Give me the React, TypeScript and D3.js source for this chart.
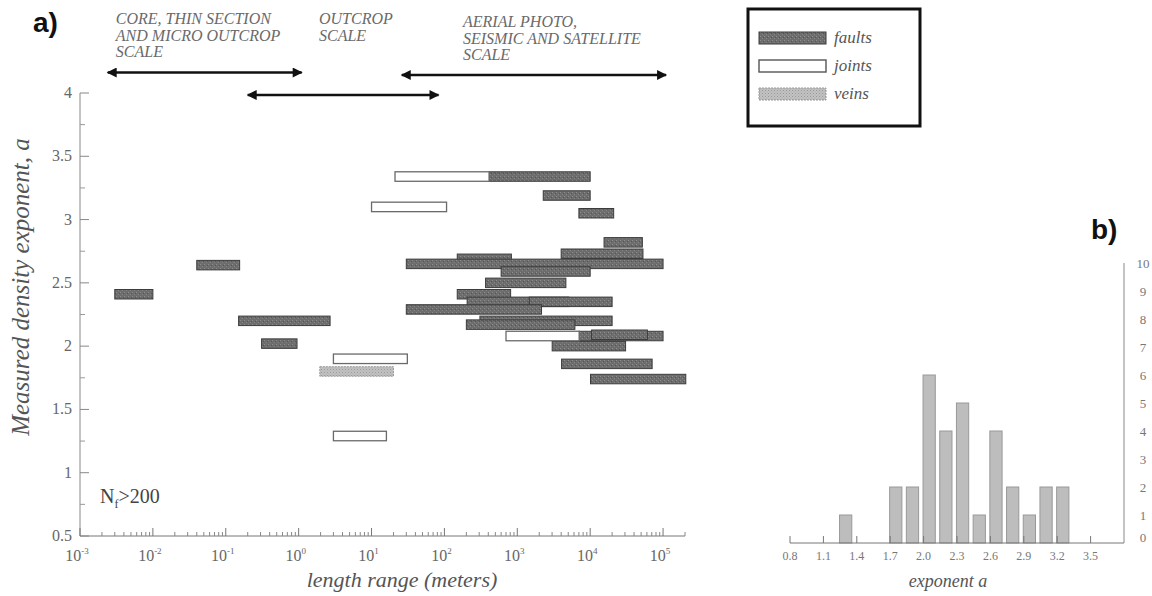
import React from "react";
import * as d3 from "d3";

// [min length (m), max length (m), exponent a]
const faults: [number, number, number][] = [
  [0.003, 0.01, 2.41],
  [0.04, 0.155, 2.64],
  [0.15, 2.7, 2.2],
  [0.31, 0.95, 2.02],
  [410, 10000, 3.34],
  [2270, 10000, 3.19],
  [7000, 21000, 3.05],
  [15500, 52000, 2.82],
  [4000, 53000, 2.73],
  [150, 830, 2.69],
  [30, 100000, 2.65],
  [600, 10000, 2.59],
  [367, 4640, 2.5],
  [150, 810, 2.41],
  [205, 5100, 2.35],
  [1460, 20000, 2.35],
  [30, 2150, 2.29],
  [307, 20000, 2.2],
  [200, 6170, 2.17],
  [7060, 100000, 2.08],
  [10450, 61000, 2.09],
  [3010, 30600, 2.0],
  [4050, 70800, 1.86],
  [10100, 205000, 1.74],
];

const joints: [number, number, number][] = [
  [21, 410, 3.34],
  [10, 107, 3.1],
  [3.0, 31, 1.9],
  [3.0, 16, 1.29],
  [700, 7060, 2.08],
];

const veins: [number, number, number][] = [[1.95, 20, 1.8]];

// scale-of-observation arrows: [from, to] in metres
const scaleArrows: [number, number][] = [
  [0.0024, 1.1],
  [0.2, 83],
  [26, 110000],
];
const scaleLabels: { x: number; lines: string[] }[] = [
  { x: 0.0031, lines: ["CORE, THIN SECTION", "AND MICRO OUTCROP", "SCALE"] },
  { x: 1.9, lines: ["OUTCROP", "SCALE"] },
  { x: 180, lines: ["AERIAL PHOTO,", "SEISMIC AND SATELLITE", "SCALE"] },
];

// histogram (panel b)
const histBins = [1.3, 1.75, 1.9, 2.05, 2.2, 2.35, 2.5, 2.65, 2.8, 2.95, 3.1, 3.25];
const histCounts = [1, 2, 2, 6, 4, 5, 1, 4, 2, 1, 2, 2];
const histTicks = ["0.8", "1.1", "1.4", "1.7", "2.0", "2.3", "2.6", "2.9", "3.2", "3.5"];
const countTicks = [0, 1, 2, 3, 4, 5, 6, 7, 8, 9, 10];

const yTicks = [0.5, 1, 1.5, 2, 2.5, 3, 3.5, 4];
const decades = [-3, -2, -1, 0, 1, 2, 3, 4, 5];

const serif = "'Liberation Serif', 'DejaVu Serif', serif";
const sans = "'Liberation Sans', Arial, sans-serif";

export default function App() {
  const x = d3.scaleLog().domain([1e-3, 2e5]).range([80, 685]);
  const y = d3.scaleLinear().domain([0.5, 4]).range([536, 93]);
  const barH = 0.075;
  const arrowY = [72.5, 95, 75];

  const hx = d3.scaleLinear().domain([0.8, 3.8]).range([790, 1124]);
  const hy = d3.scaleLinear().domain([0, 10]).range([543, 263]);
  const binW = 0.11;

  const minor: number[] = [];
  decades.forEach((k) => {
    for (let m = 2; m <= 9; m++) {
      const v = m * Math.pow(10, k);
      if (v <= 2e5) minor.push(v);
    }
  });

  const rangeBar = (d: [number, number, number], i: number, kind: string) => {
    const x0 = x(d[0]);
    const x1 = x(d[1]);
    const y0 = y(d[2] + barH / 2);
    const h = y(d[2] - barH / 2) - y0;
    if (kind === "fault")
      return <rect key={kind + i} x={x0} y={y0} width={x1 - x0} height={h} fill="url(#stipple)" stroke="#3c3c3c" strokeWidth={1} />;
    if (kind === "joint")
      return <rect key={kind + i} x={x0} y={y0} width={x1 - x0} height={h} fill="#fff" stroke="#6a6a6a" strokeWidth={1.3} />;
    return <rect key={kind + i} x={x0} y={y0} width={x1 - x0} height={h} fill="url(#dots)" stroke="#9a9a9a" strokeWidth={1} strokeDasharray="2 1" />;
  };

  return (
    <svg width={1152} height={596} style={{ position: "absolute", left: 0, top: 0, background: "#fff" }}>
      <defs>
        <pattern id="stipple" width={4} height={4} patternUnits="userSpaceOnUse">
          <rect width={4} height={4} fill="#6d6d6d" />
          <rect x={0} y={0} width={1} height={1} fill="#8c8c8c" />
          <rect x={2} y={2} width={1} height={1} fill="#858585" />
          <rect x={3} y={1} width={1} height={1} fill="#555" />
        </pattern>
        <pattern id="dots" width={3} height={3} patternUnits="userSpaceOnUse">
          <rect width={3} height={3} fill="#c2c2c2" />
          <rect x={0} y={0} width={1} height={1} fill="#999" />
          <rect x={1.5} y={1.5} width={1} height={1} fill="#a8a8a8" />
        </pattern>
        <marker id="head" viewBox="0 0 10 10" refX={9} refY={5} markerWidth={6} markerHeight={4} orient="auto-start-reverse" markerUnits="strokeWidth">
          <path d="M0,0 L10,5 L0,10 z" fill="#111" />
        </marker>
      </defs>

      {/* panel labels */}
      <text x={33} y={32} fontFamily={sans} fontWeight="bold" fontSize={28} fill="#111">a)</text>
      <text x={1091} y={239} fontFamily={sans} fontWeight="bold" fontSize={28} fill="#111">b)</text>

      {/* scale annotations */}
      {scaleLabels.map((s, i) => (
        <text key={"sl" + i} x={x(s.x)} y={i === 2 ? 27 : 24} fontFamily={serif} fontStyle="italic" fontSize={16} fill="#6a6a6a">
          {s.lines.map((l, j) => (
            <tspan key={j} x={x(s.x)} dy={j === 0 ? 0 : 16.5}>{l}</tspan>
          ))}
        </text>
      ))}
      {scaleArrows.map((a, i) => (
        <line key={"ar" + i} x1={x(a[0])} x2={x(a[1])} y1={arrowY[i]} y2={arrowY[i]}
          stroke="#111" strokeWidth={2.5} markerStart="url(#head)" markerEnd="url(#head)" />
      ))}

      {/* legend */}
      <rect x={748} y={9} width={172} height={117} fill="#fff" stroke="#111" strokeWidth={3} />
      {[
        ["faults", "fault"],
        ["joints", "joint"],
        ["veins", "vein"],
      ].map(([label, kind], i) => {
        const cy = 38 + i * 28;
        return (
          <g key={label}>
            <rect x={759} y={cy - 6} width={67} height={12}
              fill={kind === "fault" ? "url(#stipple)" : kind === "joint" ? "#fff" : "url(#dots)"}
              stroke={kind === "fault" ? "#3c3c3c" : kind === "joint" ? "#555" : "#9a9a9a"}
              strokeWidth={kind === "joint" ? 1.4 : 1} strokeDasharray={kind === "vein" ? "2 1" : undefined} />
            <text x={834} y={cy + 5} fontFamily={serif} fontStyle="italic" fontSize={17} fill="#555">{label}</text>
          </g>
        );
      })}

      {/* panel a axes */}
      <line x1={80} x2={80} y1={y(0.5)} y2={y(4)} stroke="#888" strokeWidth={1} />
      <line x1={80} x2={x(2e5)} y1={y(0.5)} y2={y(0.5)} stroke="#777" strokeWidth={1} />
      {yTicks.map((t) => (
        <g key={"yt" + t}>
          <line x1={80} x2={89} y1={y(t)} y2={y(t)} stroke="#888" />
          <text x={72} y={y(t) + 5} textAnchor="end" fontFamily={serif} fontSize={16} fill="#666">{t}</text>
        </g>
      ))}
      {yTicks.slice(0, -1).map((t) => (
        <line key={"ym" + t} x1={80} x2={85} y1={y(t + 0.25)} y2={y(t + 0.25)} stroke="#999" />
      ))}
      {decades.map((k) => (
        <g key={"xd" + k}>
          <line x1={x(Math.pow(10, k))} x2={x(Math.pow(10, k))} y1={y(0.5)} y2={y(0.5) - 8} stroke="#777" />
          <text x={x(Math.pow(10, k)) - 3} y={561} textAnchor="middle" fontFamily={serif} fontSize={16} fill="#666">
            10<tspan fontSize={9} dy={-7}>{k}</tspan>
          </text>
        </g>
      ))}
      {minor.map((v, i) => (
        <line key={"xm" + i} x1={x(v)} x2={x(v)} y1={y(0.5)} y2={y(0.5) - 4} stroke="#888" />
      ))}
      <text x={402} y={587} textAnchor="middle" fontFamily={serif} fontStyle="italic" fontSize={22} fill="#555">length range (meters)</text>
      <text transform={`translate(29,287) rotate(-90)`} textAnchor="middle" fontFamily={serif} fontStyle="italic" fontSize={25} fill="#555">
        Measured density exponent, a
      </text>
      <text x={100} y={503} fontFamily={serif} fontSize={20} fill="#444">
        N<tspan fontSize={12} dy={5}>f</tspan><tspan dy={-5}>&gt;200</tspan>
      </text>

      {/* range bars */}
      {faults.map((d, i) => rangeBar(d, i, "fault"))}
      {joints.map((d, i) => rangeBar(d, i, "joint"))}
      {veins.map((d, i) => rangeBar(d, i, "vein"))}

      {/* panel b histogram */}
      {histBins.map((b, i) => (
        <rect key={"hb" + i} x={hx(b - binW / 2)} y={hy(histCounts[i])} width={hx(b + binW / 2) - hx(b - binW / 2)} height={hy(0) - hy(histCounts[i])}
          fill="#bdbdbd" stroke="#999" strokeWidth={1} />
      ))}
      <line x1={hx(0.8)} x2={hx(3.8)} y1={hy(0)} y2={hy(0)} stroke="#777" />
      <line x1={hx(3.8)} x2={hx(3.8)} y1={hy(0)} y2={hy(10)} stroke="#888" />
      {histTicks.map((t) => (
        <g key={"ht" + t}>
          <line x1={hx(+t)} x2={hx(+t)} y1={hy(0)} y2={hy(0) - 7} stroke="#777" />
          <text x={hx(+t)} y={560} textAnchor="middle" fontFamily={serif} fontSize={12} fill="#777">{t}</text>
        </g>
      ))}
      {countTicks.map((c) => (
        <text key={"ct" + c} x={1143} y={Math.min(hy(c), hy(0) - 6) + 4.5} textAnchor="middle" fontFamily={serif} fontSize={13} fill="#777">{c}</text>
      ))}
      <text x={948} y={587} textAnchor="middle" fontFamily={serif} fontStyle="italic" fontSize={18} fill="#555">exponent a</text>
    </svg>
  );
}
